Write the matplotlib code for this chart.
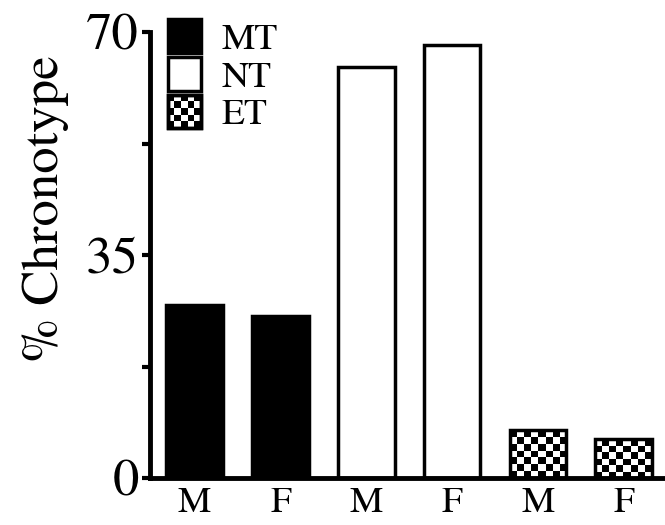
import numpy as np
import matplotlib
matplotlib.use("Agg")
import matplotlib.pyplot as plt
from matplotlib.patches import Rectangle
from matplotlib.legend_handler import HandlerBase

plt.rcParams['font.family'] = ['TeX Gyre Termes', 'STIXGeneral', 'DejaVu Serif']

categories = ["M", "F", "M", "F", "M", "F"]
groups = ["MT", "NT", "ET"]
values = {"MT": [27.2, 25.4], "NT": [64.5, 68.0], "ET": [7.5, 6.1]}
yticks = [0, 35, 70]
yminor = [17.5, 52.5]

fig = plt.figure(figsize=(6.65, 5.25), dpi=100)
ax = fig.add_axes([0.2256, 0.0895, 0.7744, 0.8495])

width = 0.66
x = np.arange(len(categories))
heights = values["MT"] + values["NT"] + values["ET"]
styles = ["MT", "MT", "NT", "NT", "ET", "ET"]


def checker(nx, ny):
    return (np.add.outer(np.arange(ny), np.arange(nx)) % 2).astype(float)


for xi, h, s in zip(x, heights, styles):
    face = "black" if s == "MT" else "white"
    bar = ax.bar(xi, h, width=width, color=face, edgecolor="black",
                 linewidth=2.5, zorder=2)[0]
    if s == "ET":
        cell_x, cell_y = 0.0814, 1.1
        nx = max(1, int(round(width / cell_x)))
        ny = max(1, int(round(h / cell_y)))
        im = ax.imshow(checker(nx, ny), cmap="gray", interpolation="nearest",
                       extent=(xi - width / 2, xi + width / 2, 0, h),
                       origin="lower", aspect="auto", zorder=1.5)
        im.set_clip_path(bar)
        bar.set_facecolor("none")

ax.set_xlim(-0.52, 5.48)
ax.set_ylim(0, 70)
ax.set_xticks(x)
ax.set_xticklabels(categories, fontsize=27)
ax.tick_params(axis="x", length=0, pad=6)
ax.set_yticks(yticks)
ax.set_yticks(yminor, minor=True)
ax.tick_params(axis="y", which="major", labelsize=38, length=6, width=3, pad=2)
ax.tick_params(axis="y", which="minor", length=6, width=3)
for side in ("top", "right"):
    ax.spines[side].set_visible(False)
for side in ("left", "bottom"):
    ax.spines[side].set_linewidth(3.5)
ax.set_ylabel("% Chronotype", fontsize=38)
ax.yaxis.set_label_coords(-0.158, 0.605)


class CheckerHandler(HandlerBase):
    def create_artists(self, legend, orig_handle, xdescent, ydescent,
                       width, height, fontsize, trans):
        artists = []
        size = height
        x0, y0 = -xdescent, -ydescent
        n = 5
        c = size / n
        artists.append(Rectangle((x0, y0), size, size, facecolor="white",
                                 edgecolor="black", linewidth=2.5,
                                 transform=trans))
        for i in range(n):
            for j in range(n):
                if (i + j) % 2 == 0:
                    artists.append(Rectangle((x0 + i * c, y0 + j * c), c, c,
                                             facecolor="black", edgecolor="none",
                                             transform=trans))
        artists.append(Rectangle((x0, y0), size, size, facecolor="none",
                                 edgecolor="black", linewidth=2.5,
                                 transform=trans))
        return artists


class SquareHandler(HandlerBase):
    def create_artists(self, legend, orig_handle, xdescent, ydescent,
                       width, height, fontsize, trans):
        size = height
        r = Rectangle((-xdescent, -ydescent), size, size,
                      facecolor=orig_handle.get_facecolor(),
                      edgecolor="black", linewidth=2.5, transform=trans)
        return [r]


h_mt = Rectangle((0, 0), 1, 1, facecolor="black")
h_nt = Rectangle((0, 0), 1, 1, facecolor="white")
h_et = Rectangle((0, 0), 1, 1, facecolor="white")
leg = ax.legend([h_mt, h_nt, h_et], groups, loc="upper left",
                bbox_to_anchor=(0.005, 1.062), frameon=False, fontsize=27,
                handler_map={h_mt: SquareHandler(), h_nt: SquareHandler(),
                             h_et: CheckerHandler()},
                handlelength=1.0, handleheight=1.0, handletextpad=0.45,
                labelspacing=0.0, borderaxespad=0)

fig.savefig("out.png", dpi=100)
